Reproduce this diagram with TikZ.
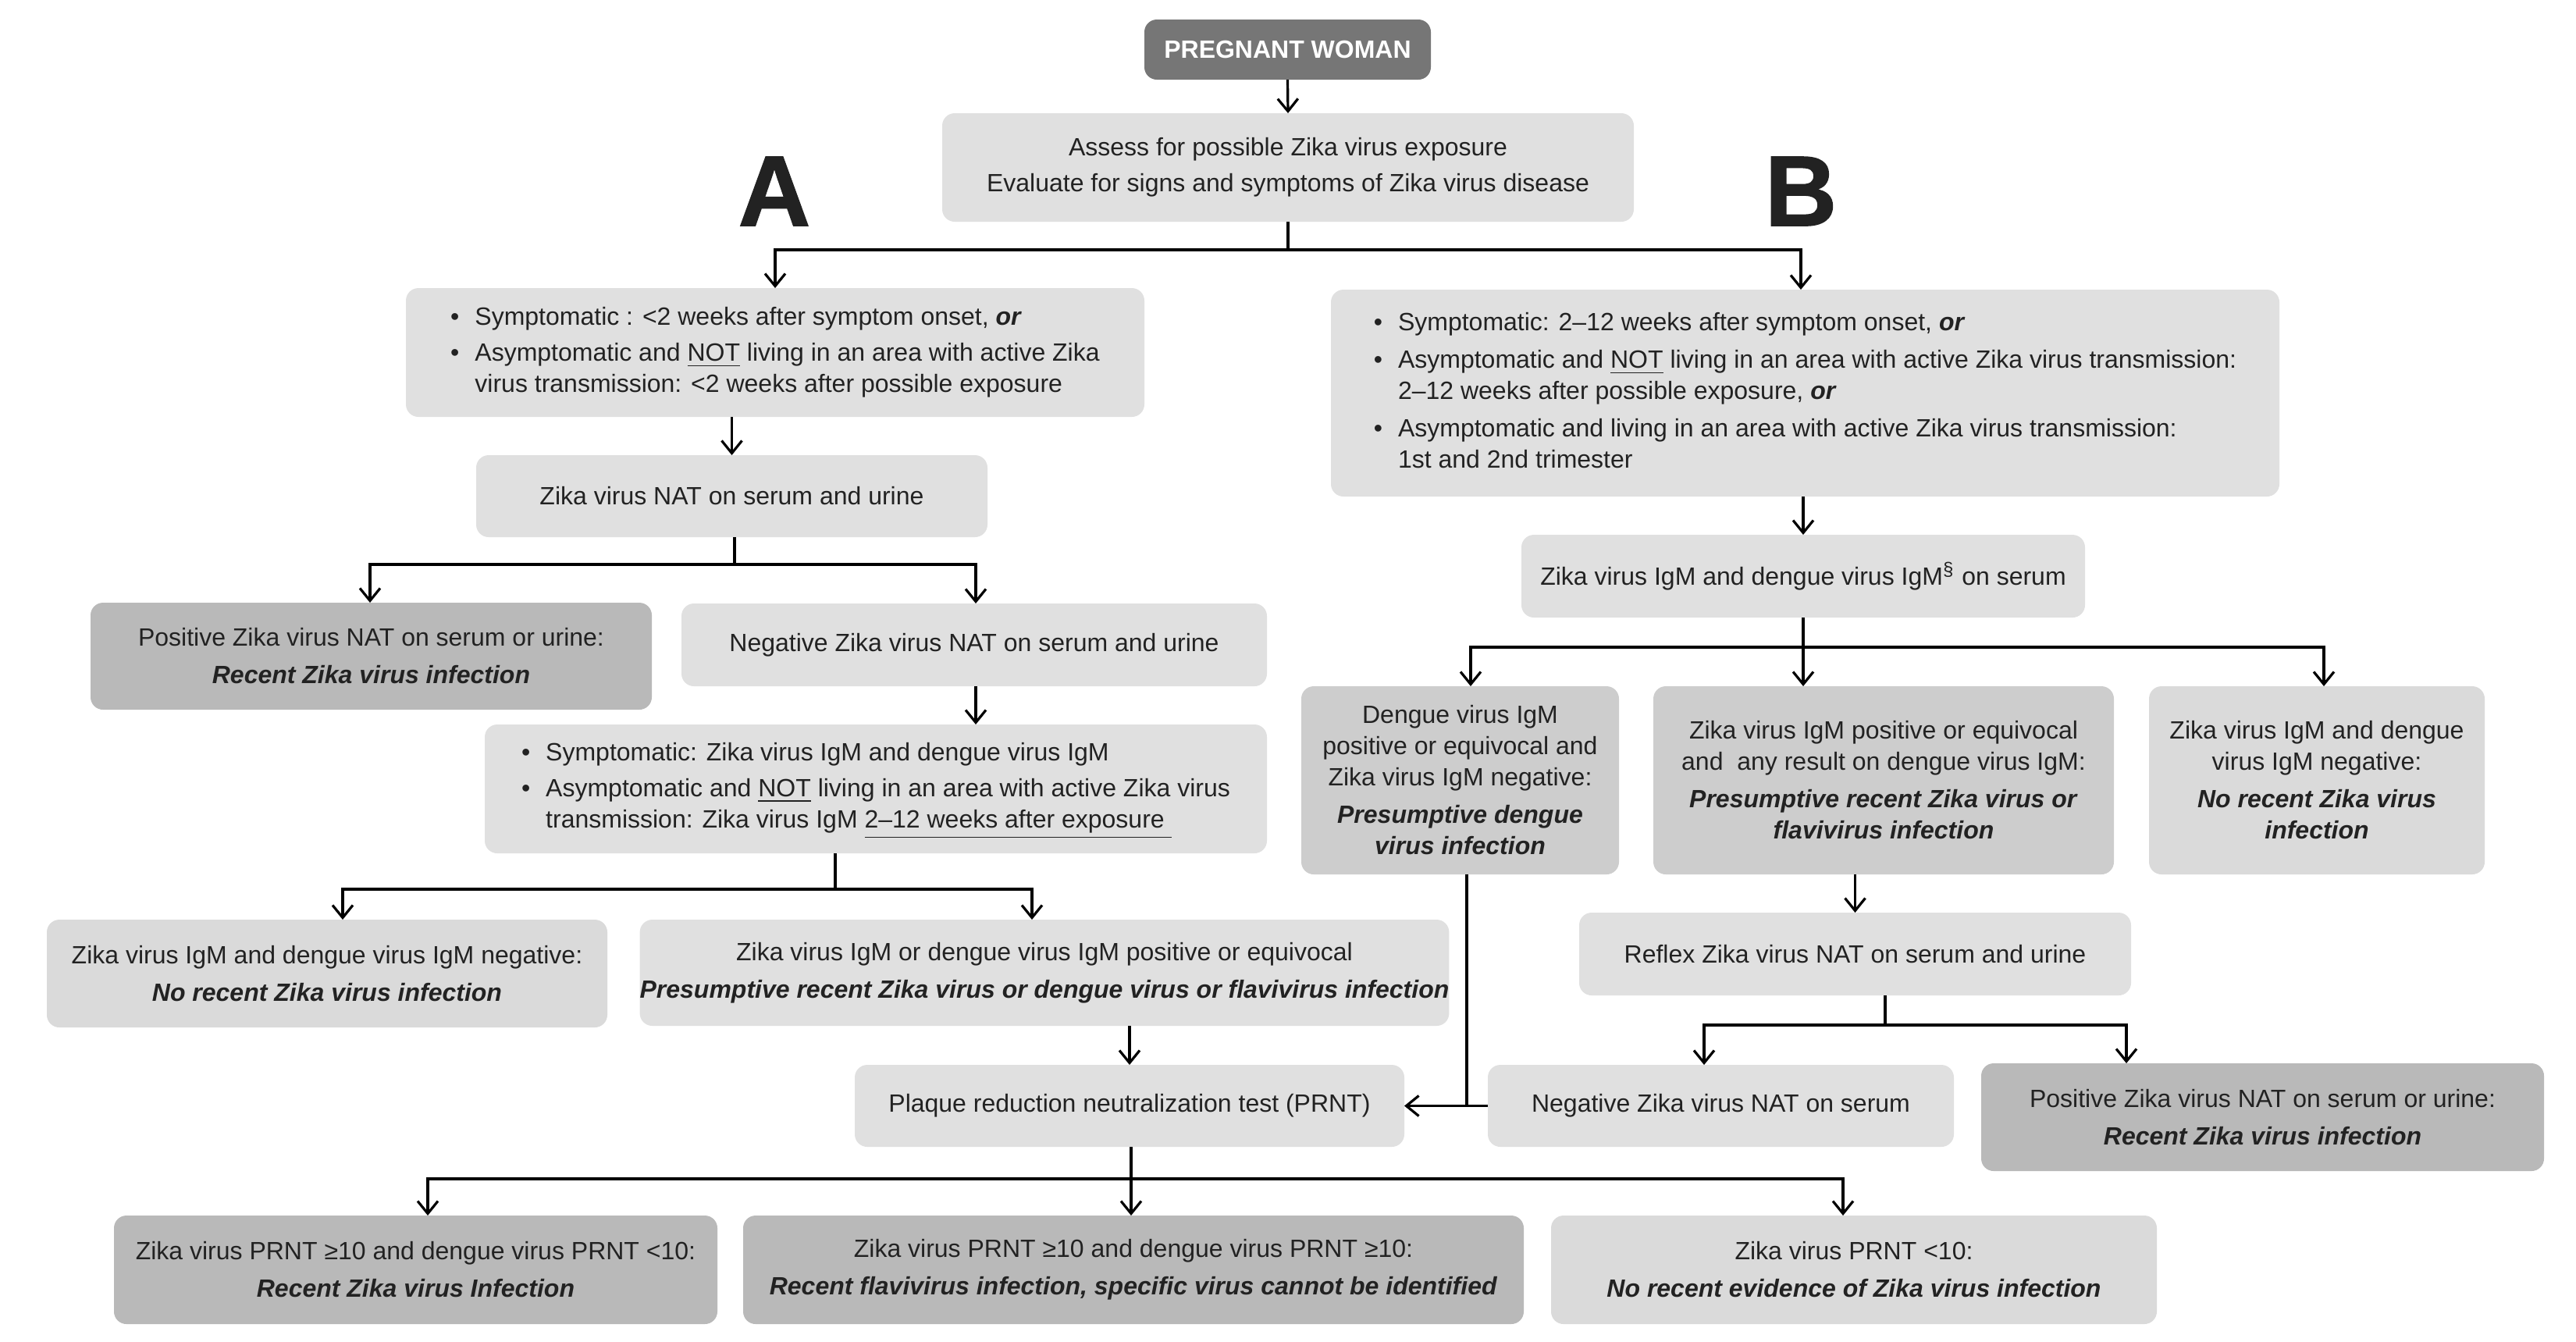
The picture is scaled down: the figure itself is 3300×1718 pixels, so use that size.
\documentclass[tikz,border=0pt]{standalone}
\usepackage{fontspec}
\setmainfont{Liberation Sans}
\newfontfamily\heavyfont[FakeBold=1.2]{Liberation Sans Bold}
\usetikzlibrary{arrows.meta}
\definecolor{lgray}{HTML}{E0E0E0}
\definecolor{mgray}{HTML}{CDCDCD}
\definecolor{dgray}{HTML}{B9B9B9}
\definecolor{sgray}{HTML}{DADADA}
\definecolor{pwgray}{HTML}{767676}
\definecolor{txt}{HTML}{222222}
\newcommand{\bi}[1]{\textbf{\textit{#1}}}
\newcommand{\bul}{\textbullet}
% box from pixel corners: style, name, x1, y1, x2, y2, text
\newcommand{\bx}[7]{%
  \pgfmathsetmacro\bxcx{(#3+#5)/2}%
  \pgfmathsetmacro\bxcy{(#4+#6)/2}%
  \pgfmathsetmacro\bxw{(#5-#3)*0.25}%
  \pgfmathsetmacro\bxh{(#6-#4)*0.25}%
  \node[#1, minimum width=\bxw pt, minimum height=\bxh pt] (#2) at (\bxcx,\bxcy) {#7};}
\begin{document}
\begin{tikzpicture}[x=0.25pt,y=-0.25pt,
  box/.style={rounded corners=4pt, inner sep=0pt, outer sep=0pt, align=center, text=txt, font=\fontsize{8}{10}\selectfont},
  lbox/.style={box, fill=lgray},
  mbox/.style={box, fill=mgray},
  dbox/.style={box, fill=dgray},
  sbox/.style={box, fill=sgray},
  pwbox/.style={box, fill=pwgray, text=white, font=\fontsize{8}{10}\selectfont\bfseries},
  letter/.style={inner sep=0pt, text=txt, font=\heavyfont\fontsize{32}{32}\selectfont},
  con/.style={line width=0.8pt, black},
  arr/.style={con, -{Straight Barb[length=4pt,width=6.5pt]}},
]
\useasboundingbox (0,0) rectangle (3300,1718);

% ---- boxes ----
\bx{pwbox}{pw}{1466}{25}{1833}{102}{PREGNANT WOMAN}
\bx{lbox}{assess}{1207}{145}{2093}{284}{Assess for possible Zika virus exposure\\[1.5pt]Evaluate for signs and symptoms of Zika virus disease}
\node[letter] (la) at (992,245) {A};
\node[letter] (lb) at (2307,245) {B};

\bx{lbox}{a1}{520}{369}{1466}{534}{\begin{tabular}{@{}l@{\hspace{5pt}}l@{}}
\bul & Symptomatic : <2 weeks after symptom onset, \bi{or}\\[1.5pt]
\bul & Asymptomatic and \underline{NOT} living in an area with active Zika\\
 & virus transmission: <2 weeks after possible exposure
\end{tabular}}

\bx{lbox}{b1}{1705}{371}{2920}{636}{\begin{tabular}{@{}l@{\hspace{5pt}}l@{}}
\bul & Symptomatic: 2–12 weeks after symptom onset, \bi{or}\\[2pt]
\bul & Asymptomatic and \underline{NOT} living in an area with active Zika virus transmission:\\
 & 2–12 weeks after possible exposure, \bi{or}\\[2pt]
\bul & Asymptomatic and living in an area with active Zika virus transmission:\\
 & 1st and 2nd trimester
\end{tabular}}

\bx{lbox}{nat}{610}{583}{1265}{688}{Zika virus NAT on serum and urine}
\bx{dbox}{posA}{116}{772}{835}{909}{Positive Zika virus NAT on serum or urine:\\[2pt]\bi{Recent Zika virus infection}}
\bx{lbox}{negA}{873}{773}{1623}{879}{Negative Zika virus NAT on serum and urine}

\bx{lbox}{igmA}{621}{928}{1623}{1093}{\begin{tabular}{@{}l@{\hspace{5pt}}l@{}}
\bul & Symptomatic: Zika virus IgM and dengue virus IgM\\[1.5pt]
\bul & Asymptomatic and \underline{NOT} living in an area with active Zika virus\\
 & transmission: Zika virus IgM \underline{2–12 weeks after exposure\ }
\end{tabular}}

\bx{sbox}{negIgmA}{60}{1178}{778}{1316}{Zika virus IgM and dengue virus IgM negative:\\[2pt]\bi{No recent Zika virus infection}}
\bx{lbox}{presA}{824}{1178}{1852}{1314}{Zika virus IgM or dengue virus IgM positive or equivocal\\[2pt]\bi{Presumptive recent Zika virus or dengue virus or flavivirus infection}}
\bx{lbox}{prnt}{1095}{1364}{1799}{1469}{Plaque reduction neutralization test (PRNT)}

\bx{dbox}{r1}{146}{1557}{919}{1696}{Zika virus PRNT ≥10 and dengue virus PRNT <10:\\[2pt]\bi{Recent Zika virus Infection}}
\bx{dbox}{r2}{952}{1557}{1952}{1696}{Zika virus PRNT ≥10 and dengue virus PRNT ≥10:\\[2pt]\bi{Recent flavivirus infection, specific virus cannot be identified}}
\bx{sbox}{r3}{1987}{1557}{2763}{1696}{Zika virus PRNT <10:\\[2pt]\bi{No recent evidence of Zika virus infection}}

\bx{lbox}{igmB}{1949}{685}{2671}{791}{Zika virus IgM and dengue virus IgM\textsuperscript{§} on serum}
\bx{mbox}{deng}{1667}{879}{2074}{1120}{Dengue virus IgM\\positive or equivocal and\\Zika virus IgM negative:\\[2pt]\bi{Presumptive dengue}\\\bi{virus infection}}
\bx{mbox}{zpos}{2118}{879}{2708}{1120}{Zika virus IgM positive or equivocal\\and\ \ any result on dengue virus IgM:\\[2pt]\bi{Presumptive recent Zika virus or}\\\bi{flavivirus infection}}
\bx{sbox}{zneg}{2753}{879}{3183}{1120}{Zika virus IgM and dengue\\virus IgM negative:\\[2pt]\bi{No recent Zika virus}\\\bi{infection}}

\bx{lbox}{reflex}{2023}{1169}{2730}{1275}{Reflex Zika virus NAT on serum and urine}
\bx{lbox}{negB}{1906}{1364}{2503}{1469}{Negative Zika virus NAT on serum}
\bx{dbox}{posB}{2538}{1362}{3259}{1500}{Positive Zika virus NAT on serum or urine:\\[2pt]\bi{Recent Zika virus infection}}

% ---- junctions ----
\coordinate (j0) at (1650,320);
\coordinate (j0l) at (993,320);
\coordinate (j0r) at (2307,320);
\coordinate (j1) at (941,723);
\coordinate (j1l) at (474,723);
\coordinate (j1r) at (1250,723);
\coordinate (j2) at (1070,1139);
\coordinate (j2l) at (439,1139);
\coordinate (j2r) at (1322,1139);
\coordinate (j3) at (1449,1510);
\coordinate (j3l) at (548,1510);
\coordinate (j3r) at (2361,1510);
\coordinate (j4) at (2310,829);
\coordinate (j4l) at (1884,829);
\coordinate (j4r) at (2977,829);
\coordinate (j5) at (2415,1313);
\coordinate (j5l) at (2183,1313);
\coordinate (j5r) at (2724,1313);
\coordinate (x6) at (1879,0);
\coordinate (j6) at (prnt.east -| x6);

% ---- connectors ----
\draw[arr] (pw.south) -- (assess.north);
\draw[con] (assess.south -| j0) -- (j0);
\draw[arr] (j0) -- (j0l) -- (j0l |- a1.north);
\draw[arr] (j0) -- (j0r) -- (j0r |- b1.north);

\draw[arr] (a1.south -| nat.north) -- (nat.north);
\draw[con] (nat.south -| j1) -- (j1);
\draw[arr] (j1) -- (j1l) -- (j1l |- posA.north);
\draw[arr] (j1) -- (j1r) -- (j1r |- negA.north);
\draw[arr] (negA.south -| j1r) -- (j1r |- igmA.north);
\draw[con] (igmA.south -| j2) -- (j2);
\draw[arr] (j2) -- (j2l) -- (j2l |- negIgmA.north);
\draw[arr] (j2) -- (j2r) -- (j2r |- presA.north);
\draw[arr] (presA.south -| prnt.north) -- (prnt.north);
\draw[con] (prnt.south -| j3) -- (j3);
\draw[arr] (j3) -- (j3 |- r2.north);
\draw[arr] (j3) -- (j3l) -- (j3l |- r1.north);
\draw[arr] (j3) -- (j3r) -- (j3r |- r3.north);

\draw[arr] (b1.south -| igmB.north) -- (igmB.north);
\draw[con] (igmB.south -| j4) -- (j4);
\draw[arr] (j4) -- (j4 |- zpos.north);
\draw[arr] (j4) -- (j4l) -- (j4l |- deng.north);
\draw[arr] (j4) -- (j4r) -- (j4r |- zneg.north);
\draw[arr] (zpos.south -| reflex.north) -- (reflex.north);
\draw[con] (reflex.south -| j5) -- (j5);
\draw[arr] (j5) -- (j5l) -- (j5l |- negB.north);
\draw[arr] (j5) -- (j5r) -- (j5r |- posB.north);
\draw[con] (deng.south -| x6) -- (j6);
\draw[arr] (negB.west) -- (prnt.east);
\end{tikzpicture}
\end{document}
